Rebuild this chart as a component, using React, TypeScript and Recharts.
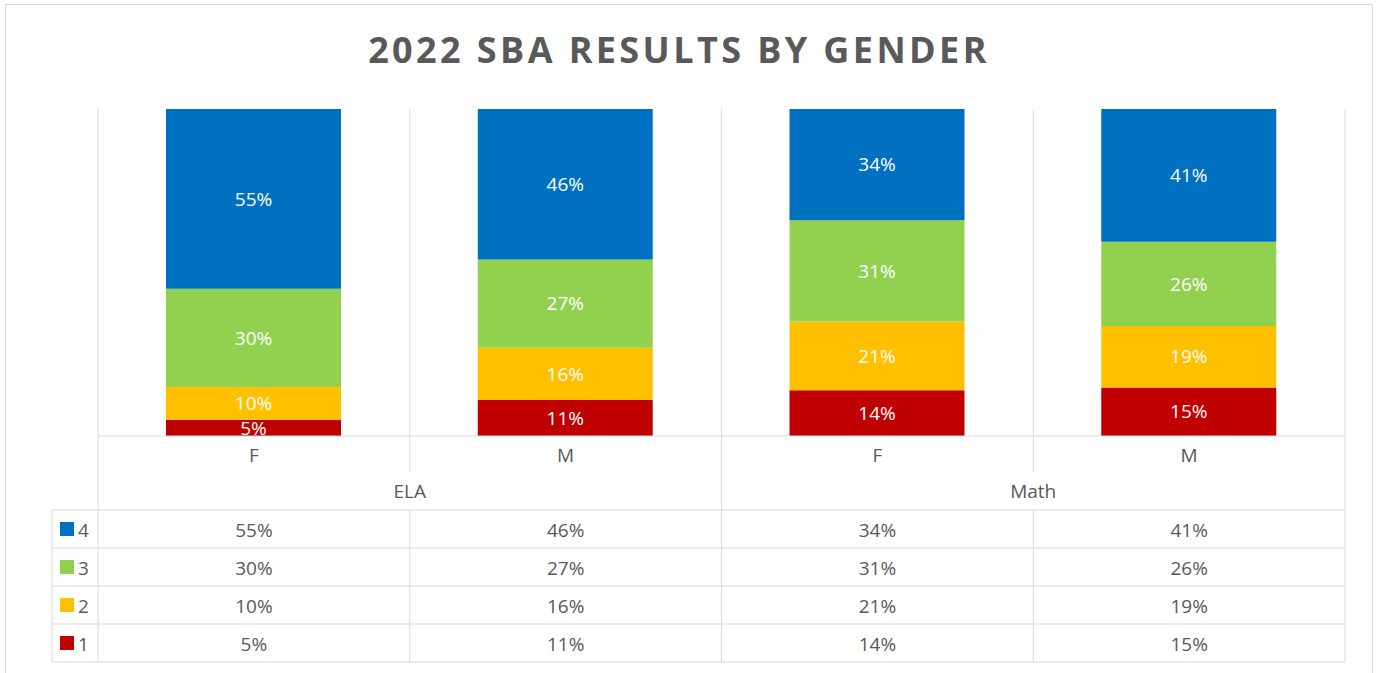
import React from 'react'
import { BarChart, Bar, XAxis, YAxis, LabelList } from 'recharts'

// categories
const subjects = ['ELA', 'ELA', 'Math', 'Math']
const genders = ['F', 'M', 'F', 'M']

// percent of students at each level
const level4 = [55, 46, 34, 41]
const level3 = [30, 27, 31, 26]
const level2 = [10, 16, 21, 19]
const level1 = [5, 11, 14, 15]

const levelNames = ['4', '3', '2', '1']
const levelKeys = ['l4', 'l3', 'l2', 'l1']
const levelColors = ['#0070C0', '#92D050', '#FFC000', '#C00000']
const levelValues = [level4, level3, level2, level1]

const data = genders.map((g, i) => ({
  id: `${subjects[i]}-${g}-${i}`,
  gender: g,
  subject: subjects[i],
  l4: level4[i],
  l3: level3[i],
  l2: level2[i],
  l1: level1[i],
}))

// layout
const W = 1380
const H = 673
const LEFT = 98
const RIGHT = 35
const TOP = 109
const GENDER_H = 36
const SUBJECT_H = 38
const ROW_H = 38
const BOTTOM = 11
const CELL_W = (W - LEFT - RIGHT) / genders.length
const LEGEND_W = 46
const PLOT_H = H - TOP - BOTTOM - GENDER_H - SUBJECT_H - ROW_H * levelKeys.length

const GRID = '#d9d9d9'
const TEXT = '#595959'
const FONT = '"Open Sans", sans-serif'

// bottom axes are stacked in id order, so the ids carry a sort prefix
const GENDER_AXIS = 'x1-gender'
const SUBJECT_AXIS = 'x2-subject'
const rowAxisId = (r: number) => `x${r + 3}-${levelKeys[r]}`

function GenderTick(props: any) {
  const { x, y, index, payload } = props
  const left = x - CELL_W / 2
  const i = payload?.index ?? index
  return (
    <g>
      <line x1={left} x2={left} y1={y - PLOT_H} y2={y + GENDER_H} stroke={GRID} />
      {i === genders.length - 1 && (
        <line x1={left + CELL_W} x2={left + CELL_W} y1={y - PLOT_H} y2={y + GENDER_H} stroke={GRID} />
      )}
      <text x={x} y={y + GENDER_H / 2 + 1} textAnchor="middle" dominantBaseline="central"
        fill={TEXT} fontSize={19} fontFamily={FONT}>
        {genders[i]}
      </text>
    </g>
  )
}

function SubjectTick(props: any) {
  const { x, y, payload } = props
  const w = CELL_W * 2
  const left = x - w / 2
  return (
    <g>
      <line x1={left} x2={left} y1={y} y2={y + SUBJECT_H} stroke={GRID} />
      {payload.value === 'Math' && (
        <line x1={left + w} x2={left + w} y1={y} y2={y + SUBJECT_H} stroke={GRID} />
      )}
      <text x={x} y={y + SUBJECT_H / 2} textAnchor="middle" dominantBaseline="central"
        fill={TEXT} fontSize={19} fontFamily={FONT}>
        {payload.value}
      </text>
    </g>
  )
}

function makeRowTick(row: number) {
  return (props: any) => {
    const { x, y, index, payload } = props
    const i = payload?.index ?? index
    const left = x - CELL_W / 2
    const right = x + CELL_W / 2
    const isLastRow = row === levelKeys.length - 1
    const start = i === 0 ? left - LEGEND_W : left
    return (
      <g>
        <line x1={start} x2={right} y1={y} y2={y} stroke={GRID} />
        {isLastRow && <line x1={start} x2={right} y1={y + ROW_H} y2={y + ROW_H} stroke={GRID} />}
        <line x1={left} x2={left} y1={y} y2={y + ROW_H} stroke={GRID} />
        {i === genders.length - 1 && <line x1={right} x2={right} y1={y} y2={y + ROW_H} stroke={GRID} />}
        {i === 0 && (
          <g>
            <line x1={start} x2={start} y1={y} y2={y + ROW_H} stroke={GRID} />
            <rect x={start + 8} y={y + ROW_H / 2 - 7} width={14} height={14} fill={levelColors[row]} />
            <text x={start + 26} y={y + ROW_H / 2 + 1} dominantBaseline="central"
              fill={TEXT} fontSize={19} fontFamily={FONT}>
              {levelNames[row]}
            </text>
          </g>
        )}
        <text x={x} y={y + ROW_H / 2 + 1} textAnchor="middle" dominantBaseline="central"
          fill={TEXT} fontSize={19} fontFamily={FONT}>
          {levelValues[row][i]}%
        </text>
      </g>
    )
  }
}

const rowTicks = levelKeys.map((_, r) => makeRowTick(r))

export default function App() {
  return (
    <div style={{ position: 'absolute', left: 0, top: 0, width: W, height: H, background: '#fff', overflow: 'hidden' }}>
      <div style={{ position: 'absolute', left: 5, top: 4, width: 1368, height: 700, border: `1px solid ${GRID}`, boxSizing: 'border-box' }} />
      <div style={{
        position: 'absolute', left: 0, top: 32, width: 1358, textAlign: 'center',
        fontFamily: FONT, fontWeight: 700, fontSize: 36, lineHeight: 1, letterSpacing: 3.4, color: TEXT,
      }}>
        2022 SBA RESULTS BY GENDER
      </div>
      <BarChart
        width={W}
        height={H}
        data={data}
        stackOffset="expand"
        barSize={175}
        margin={{ top: TOP, right: RIGHT, left: LEFT, bottom: BOTTOM }}
        style={{ position: 'absolute', left: 0, top: 0 }}
      >
        <XAxis xAxisId={GENDER_AXIS} dataKey="id" height={GENDER_H} interval={0} tickSize={0} tickMargin={0}
          tickLine={false} axisLine={{ stroke: GRID }} tick={GenderTick} />
        <XAxis xAxisId={SUBJECT_AXIS} dataKey="subject" allowDuplicatedCategory={false} height={SUBJECT_H}
          interval={0} tickSize={0} tickMargin={0} tickLine={false} axisLine={false} tick={SubjectTick} />
        {levelKeys.map((k, r) => (
          <XAxis key={k} xAxisId={rowAxisId(r)} dataKey="id" height={ROW_H} interval={0} tickSize={0}
            tickMargin={0} tickLine={false} axisLine={false} tick={rowTicks[r]} />
        ))}
        <YAxis hide domain={[0, 1]} />
        {[...levelKeys].reverse().map((k) => {
          const r = levelKeys.indexOf(k)
          return (
            <Bar key={k} xAxisId={GENDER_AXIS} dataKey={k} name={levelNames[r]} stackId="a"
              fill={levelColors[r]} isAnimationActive={false}>
              <LabelList dataKey={k} position="center" formatter={(v: any) => `${v}%`}
                fill="#ffffff" fontSize={19} fontFamily={FONT} />
            </Bar>
          )
        })}
      </BarChart>
    </div>
  )
}
